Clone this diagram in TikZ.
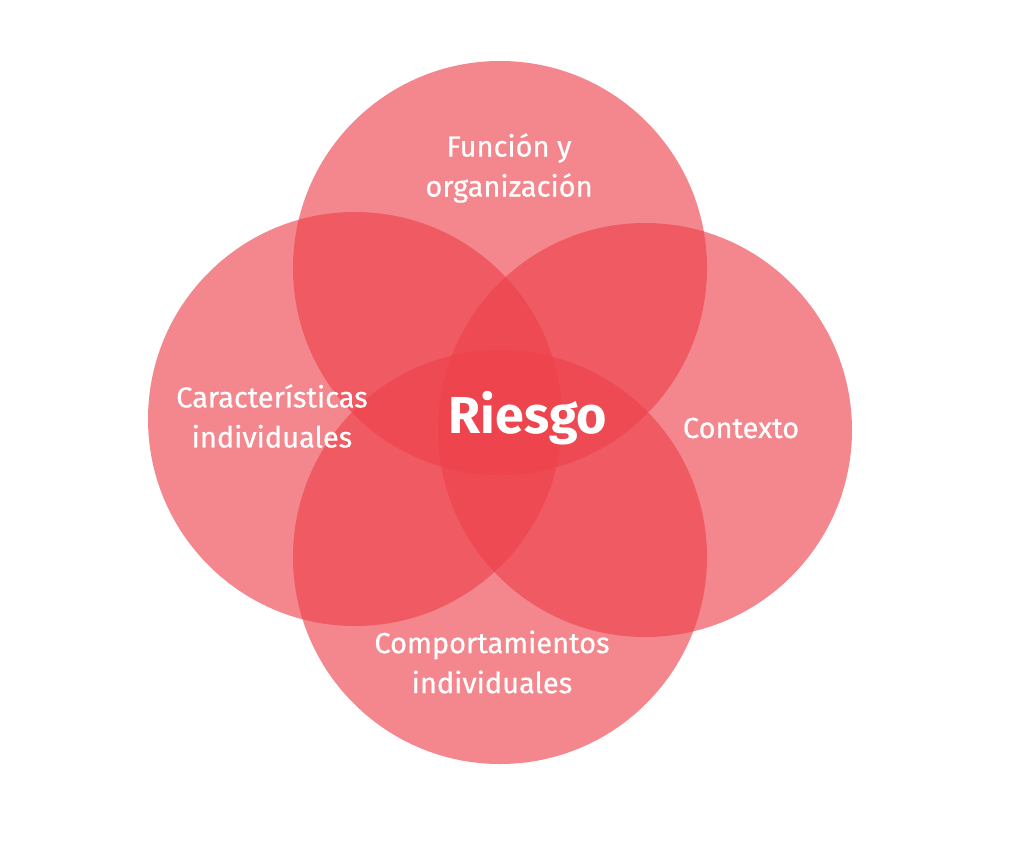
\documentclass[tikz,border=0pt]{standalone}
\usepackage{fontspec}
\setmainfont{Fira Sans}
\newfontfamily\lblfont{Fira Sans}[FakeBold=0.6]
\definecolor{riskred}{RGB}{237,64,74}
\begin{document}
\begin{tikzpicture}[x=1pt,y=-1pt,
  ring/.style={circle,fill=riskred,fill opacity=0.63,minimum size=414pt,inner sep=0pt},
  lbl/.style={text=white,font=\lblfont\fontsize{29}{40}\selectfont,align=center},
  core/.style={text=white,font=\fontsize{52}{56}\selectfont\bfseries}]
\useasboundingbox (0,0) rectangle (1027,846);
\node[ring] (top) at (500,268) {};
\node[ring] (left) at (355,419) {};
\node[ring] (right) at (645,430) {};
\node[ring] (bottom) at (500,557) {};
\node[lbl] (tl) at (509,168) {Función y\\organización};
\node[lbl] (ll) at (272,416) {Características\\individuales};
\node[lbl] (rl) at (741,428) {Contexto};
\node[lbl] (bl) at (492,662) {Comportamientos\\individuales};
\node[core] (risk) at (528,418) {Riesgo};
\end{tikzpicture}
\end{document}
